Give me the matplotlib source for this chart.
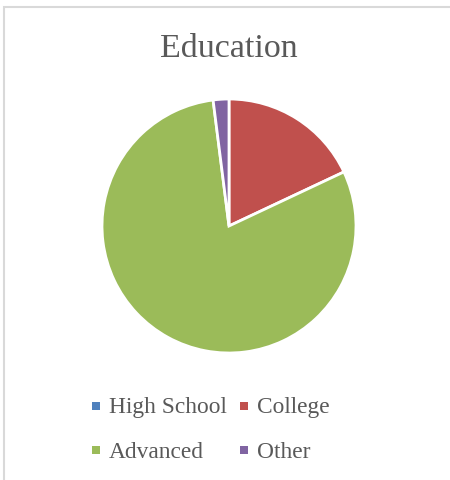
import matplotlib
matplotlib.use("Agg")
import matplotlib.pyplot as plt
from matplotlib.patches import Rectangle

categories = ["High School", "College", "Advanced", "Other"]
values = [0, 18, 80, 2]
colors = ["#4F81BD", "#C0504D", "#9BBB59", "#8064A2"]
title = "Education"

W, H = 450, 481
fig = plt.figure(figsize=(W / 100, H / 100), dpi=100)
plt.rcParams['font.family'] = ['Liberation Serif', 'DejaVu Serif']

# border
fig.patches.append(Rectangle((3.5 / W, -0.1), 1.2, (H - 7.5) / H + 0.1, transform=fig.transFigure,
                             fill=False, edgecolor="#D9D9D9", linewidth=1.5))

cx, cy, r = 229, 227, 127
ax = fig.add_axes([(cx - r) / W, (H - cy - r) / H, 2 * r / W, 2 * r / H])
ax.pie(values, colors=colors, startangle=90, counterclock=False, radius=1,
       wedgeprops=dict(edgecolor="white", linewidth=2))
ax.set_xlim(-1, 1)
ax.set_ylim(-1, 1)
ax.axis("off")

fig.text(229 / W, 1 - 49 / H, title, ha="center", va="center", fontsize=24.5, color="#595959")

# legend
pos = [(92, 407), (240, 407), (92, 451), (240, 451)]
for (lx, ly), lab, col in zip(pos, categories, colors):
    s = 8
    fig.patches.append(Rectangle((lx / W, 1 - (ly + s / 2) / H), s / W, s / H,
                                 transform=fig.transFigure, facecolor=col, edgecolor="none"))
    fig.text((lx + 17) / W, 1 - (ly + 1) / H, lab, ha="left", va="center", fontsize=16.8, color="#595959")

fig.savefig("out.png", dpi=100)
